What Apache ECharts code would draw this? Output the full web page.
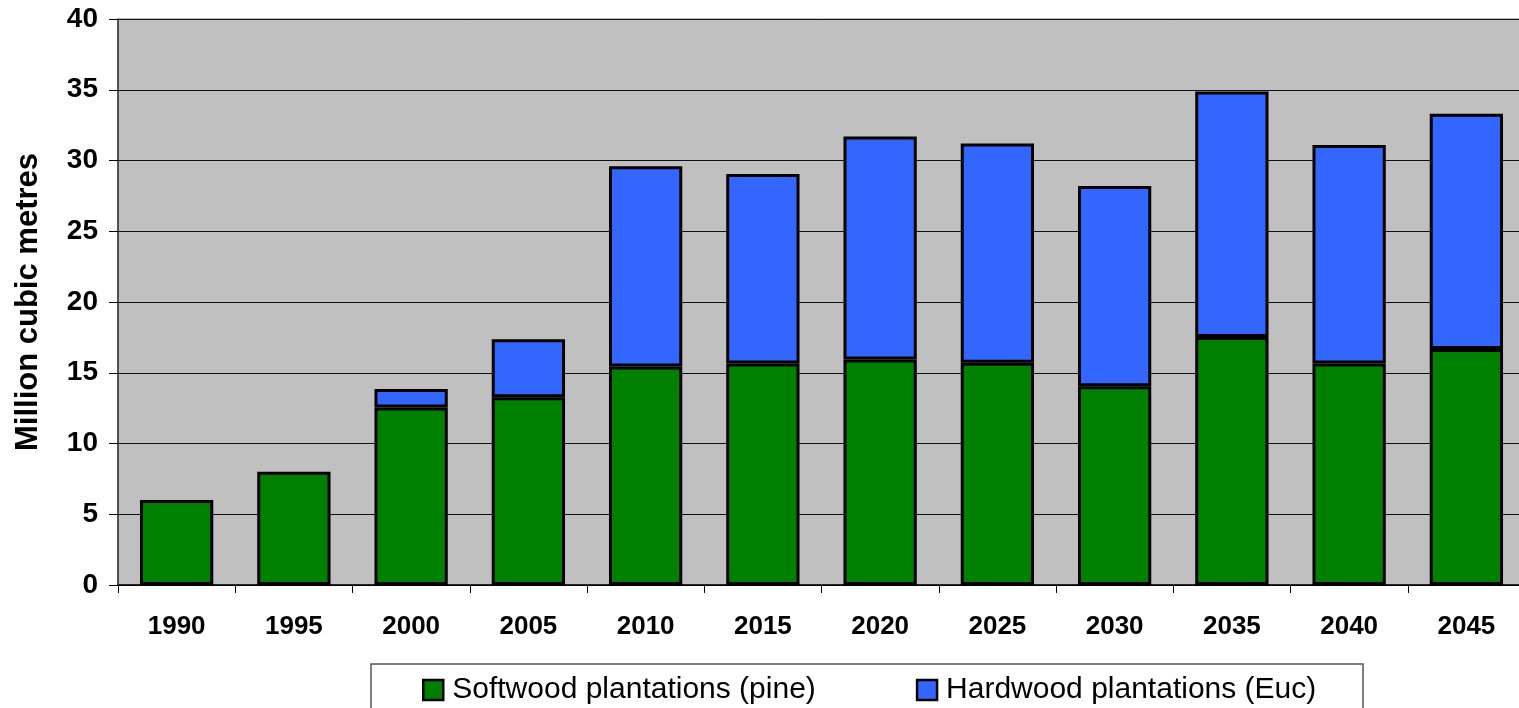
<!DOCTYPE html>
<html>
<head>
<meta charset="utf-8">
<script src="https://cdn.jsdelivr.net/npm/echarts@6/dist/echarts.min.js"></script>
<style>
html,body{margin:0;padding:0;background:#fff;overflow:hidden;width:1519px;height:708px;}
#c{width:1525px;height:708px;}
</style>
</head>
<body>
<div id="c"></div>
<script>
const categories = ['1990','1995','2000','2005','2010','2015','2020','2025','2030','2035','2040','2045'];
const softwood = [6.0, 8.0, 12.55, 13.26, 15.45, 15.65, 15.93, 15.7, 14.05, 17.53, 15.65, 16.68];
const hardwood = [null, null, 1.3, 4.1, 14.15, 13.4, 15.77, 15.5, 14.15, 17.34, 15.45, 16.62];
const seriesNames = ['Softwood plantations (pine)', 'Hardwood plantations (Euc)'];
const yAxisName = 'Million cubic metres';

const chart = echarts.init(document.getElementById('c'), null, {renderer: 'canvas'});
const font = 'Arial, "Liberation Sans", sans-serif';
chart.setOption({
  animation: false,
  backgroundColor: '#ffffff',
  grid: {left: 118, right: 0, top: 19, bottom: 123, show: true, backgroundColor: '#C0C0C0', borderColor: '#808080', borderWidth: 1},
  graphic: [{
    type: 'rect', z: -1,
    shape: {x: 371, y: 664, width: 992, height: 80},
    style: {fill: '#ffffff', stroke: '#555555', lineWidth: 1.5}
  }],
  legend: {
    left: 422, top: 675, itemGap: 100, itemWidth: 20, itemHeight: 20, padding: 0,
    icon: 'rect',
    textStyle: {fontFamily: font, fontSize: 30, lineHeight: 30, color: '#000', padding: [0, 0, 0, 4]},
    data: seriesNames.map(n => ({name: n, itemStyle: {borderColor: '#000', borderWidth: 2.5}}))
  },
  xAxis: {
    type: 'category', data: categories,
    axisLine: {lineStyle: {color: '#000', width: 1.5}},
    axisTick: {show: true, length: 8, lineStyle: {color: '#000'}},
    axisLabel: {fontFamily: font, fontSize: 26, fontWeight: 'bold', color: '#000', margin: 29}
  },
  yAxis: {
    type: 'value', min: 0, max: 40, interval: 5,
    name: yAxisName, nameLocation: 'middle', nameGap: 74,
    nameTextStyle: {fontFamily: font, fontSize: 31, fontWeight: 'bold', color: '#000'},
    axisLine: {show: true, lineStyle: {color: '#333', width: 1.5}},
    axisTick: {show: true, length: 9, lineStyle: {color: '#000'}},
    axisLabel: {fontFamily: font, fontSize: 28, fontWeight: 'bold', color: '#000', margin: 20},
    splitLine: {lineStyle: {color: '#111', width: 1.2}}
  },
  series: [
    {name: seriesNames[0], type: 'bar', stack: 'a', data: softwood, barWidth: '62.5%',
     itemStyle: {color: '#008000', borderColor: '#000', borderWidth: 3}},
    {name: seriesNames[1], type: 'bar', stack: 'a', data: hardwood, barWidth: '62.5%',
     itemStyle: {color: '#3366FF', borderColor: '#000', borderWidth: 3}}
  ]
});
</script>
</body>
</html>
